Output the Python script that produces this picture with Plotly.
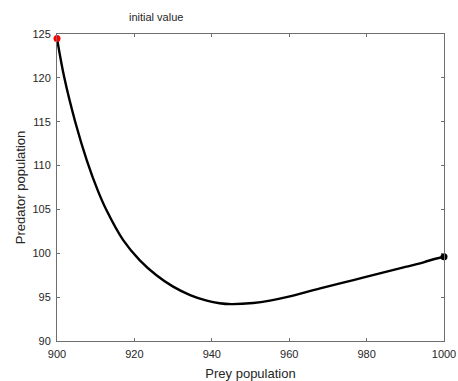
import plotly.graph_objects as go

prey = [900, 901.9, 904.7, 907.7, 910.5, 912.8, 917.1, 921.4, 925.7, 930.0, 934.4,
        938.7, 942.0, 945.0, 950.7, 955.0, 959.3, 968.0, 976.6, 985.2, 990.0,
        993.8, 996.0, 1000.0]
predator = [124.5, 120.0, 115.0, 110.6, 107.2, 104.9, 101.5, 99.2, 97.5, 96.2, 95.24,
            94.6, 94.3, 94.2, 94.33, 94.6, 95.0, 96.0, 96.95, 97.9, 98.45,
            98.85, 99.15, 99.6]

x_ticks = [900, 920, 940, 960, 980, 1000]
y_ticks = [90, 95, 100, 105, 110, 115, 120, 125]
x_range = [900, 1000]
y_range = [90, 125]
label_text = "initial value"
label_pos = (925.6, 126.9)

axis_col = "#6e6e6e"
text_col = "#262626"
font_family = "Liberation Sans, Arial, sans-serif"

fig = go.Figure()
fig.add_trace(go.Scatter(x=prey, y=predator, mode="lines",
                         line=dict(color="black", width=2.4, shape="spline", smoothing=1.0),
                         hoverinfo="skip", showlegend=False))
fig.add_trace(go.Scatter(x=[prey[0]], y=[predator[0]], mode="markers",
                         marker=dict(color="#ff0000", size=7),
                         showlegend=False, cliponaxis=False))
fig.add_trace(go.Scatter(x=[prey[-1]], y=[predator[-1]], mode="markers",
                         marker=dict(color="black", size=7),
                         showlegend=False, cliponaxis=False))

# annotation placed in paper coords converted from its data position (off-axis)
ax_px = (label_pos[0] - x_range[0]) / (x_range[1] - x_range[0])
ay_px = (label_pos[1] - y_range[0]) / (y_range[1] - y_range[0])
fig.add_annotation(x=ax_px, y=ay_px, text=label_text, showarrow=False,
                   xref="paper", yref="paper", xanchor="center", yanchor="middle",
                   font=dict(size=11, color=text_col, family=font_family))

axis_common = dict(showgrid=False, zeroline=False, showline=True, linecolor=axis_col,
                   linewidth=1, mirror="ticks", ticks="inside", ticklen=3,
                   tickcolor=axis_col, tickwidth=1, automargin=False,
                   ticklabeloverflow="allow",
                   tickfont=dict(size=11, color=text_col, family=font_family))

fig.update_xaxes(range=x_range, tickvals=x_ticks, ticktext=[str(v) for v in x_ticks],
                 ticklabelstandoff=3,
                 title=dict(text="Prey population", standoff=9,
                            font=dict(size=13, color=text_col, family=font_family)),
                 **axis_common)
fig.update_yaxes(range=y_range, tickvals=y_ticks, ticktext=[str(v) for v in y_ticks],
                 ticklabelstandoff=3,
                 title=dict(text="Predator population", standoff=3,
                            font=dict(size=13, color=text_col, family=font_family)),
                 **axis_common)

fig.update_layout(width=458, height=381, margin=dict(l=57, r=14, t=34, b=40),
                  paper_bgcolor="white", plot_bgcolor="white",
                  font=dict(family=font_family, color=text_col))

# remove the default page margin so the figure fills the window exactly
fig.write_html("out.html", config={"displayModeBar": False},
               post_script="document.body.style.margin='0px';document.body.style.overflow='hidden';")
